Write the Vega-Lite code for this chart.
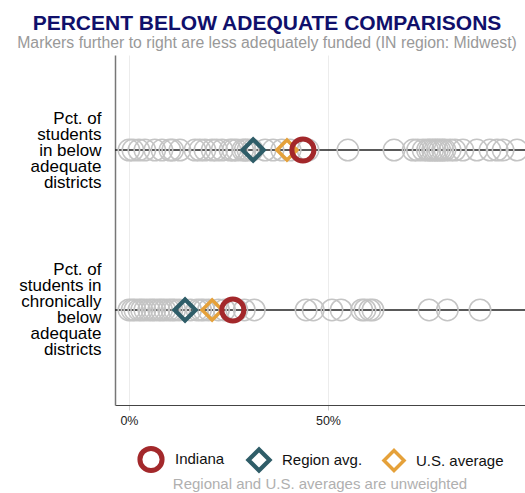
{
  "$schema": "https://vega.github.io/schema/vega-lite/v6.json",
  "autosize": "none",
  "width": 410,
  "height": 350,
  "padding": {"left": 115, "top": 55, "right": 0, "bottom": 88},
  "title": {
    "text": "PERCENT BELOW ADEQUATE COMPARISONS",
    "subtitle": "Markers further to right are less adequately funded (IN region: Midwest)",
    "anchor": "middle",
    "frame": "group",
    "dx": -53,
    "offset": 4,
    "font": "Liberation Sans",
    "fontSize": 21,
    "fontWeight": "bold",
    "color": "#10106b",
    "subtitleFont": "Liberation Sans",
    "subtitleFontSize": 15.8,
    "subtitleColor": "#999999",
    "subtitlePadding": 2
  },
  "datasets": {
    "metrics": [
      {"metric": "Pct. of|students|in below|adequate|districts"},
      {"metric": "Pct. of|students in|chronically|below|adequate|districts"}
    ],
    "states": [
      {"metric": "Pct. of|students|in below|adequate|districts", "value": 0},
      {"metric": "Pct. of|students|in below|adequate|districts", "value": 1.0},
      {"metric": "Pct. of|students|in below|adequate|districts", "value": 2.5},
      {"metric": "Pct. of|students|in below|adequate|districts", "value": 4.0},
      {"metric": "Pct. of|students|in below|adequate|districts", "value": 6.5},
      {"metric": "Pct. of|students|in below|adequate|districts", "value": 8.3},
      {"metric": "Pct. of|students|in below|adequate|districts", "value": 10.3},
      {"metric": "Pct. of|students|in below|adequate|districts", "value": 11.0},
      {"metric": "Pct. of|students|in below|adequate|districts", "value": 12.8},
      {"metric": "Pct. of|students|in below|adequate|districts", "value": 16.6},
      {"metric": "Pct. of|students|in below|adequate|districts", "value": 17.8},
      {"metric": "Pct. of|students|in below|adequate|districts", "value": 19.1},
      {"metric": "Pct. of|students|in below|adequate|districts", "value": 20.9},
      {"metric": "Pct. of|students|in below|adequate|districts", "value": 22.0},
      {"metric": "Pct. of|students|in below|adequate|districts", "value": 23.4},
      {"metric": "Pct. of|students|in below|adequate|districts", "value": 25.4},
      {"metric": "Pct. of|students|in below|adequate|districts", "value": 26.2},
      {"metric": "Pct. of|students|in below|adequate|districts", "value": 27.1},
      {"metric": "Pct. of|students|in below|adequate|districts", "value": 28.6},
      {"metric": "Pct. of|students|in below|adequate|districts", "value": 29.2},
      {"metric": "Pct. of|students|in below|adequate|districts", "value": 29.9},
      {"metric": "Pct. of|students|in below|adequate|districts", "value": 31.0},
      {"metric": "Pct. of|students|in below|adequate|districts", "value": 34.2},
      {"metric": "Pct. of|students|in below|adequate|districts", "value": 36.2},
      {"metric": "Pct. of|students|in below|adequate|districts", "value": 38.4},
      {"metric": "Pct. of|students|in below|adequate|districts", "value": 40.5},
      {"metric": "Pct. of|students|in below|adequate|districts", "value": 45.0},
      {"metric": "Pct. of|students|in below|adequate|districts", "value": 55.0},
      {"metric": "Pct. of|students|in below|adequate|districts", "value": 66.6},
      {"metric": "Pct. of|students|in below|adequate|districts", "value": 71.4},
      {"metric": "Pct. of|students|in below|adequate|districts", "value": 72.5},
      {"metric": "Pct. of|students|in below|adequate|districts", "value": 73.9},
      {"metric": "Pct. of|students|in below|adequate|districts", "value": 75.0},
      {"metric": "Pct. of|students|in below|adequate|districts", "value": 75.6},
      {"metric": "Pct. of|students|in below|adequate|districts", "value": 76.3},
      {"metric": "Pct. of|students|in below|adequate|districts", "value": 76.9},
      {"metric": "Pct. of|students|in below|adequate|districts", "value": 77.5},
      {"metric": "Pct. of|students|in below|adequate|districts", "value": 78.1},
      {"metric": "Pct. of|students|in below|adequate|districts", "value": 78.8},
      {"metric": "Pct. of|students|in below|adequate|districts", "value": 79.4},
      {"metric": "Pct. of|students|in below|adequate|districts", "value": 80.7},
      {"metric": "Pct. of|students|in below|adequate|districts", "value": 81.9},
      {"metric": "Pct. of|students|in below|adequate|districts", "value": 83.9},
      {"metric": "Pct. of|students|in below|adequate|districts", "value": 87.4},
      {"metric": "Pct. of|students|in below|adequate|districts", "value": 90.7},
      {"metric": "Pct. of|students|in below|adequate|districts", "value": 92.5},
      {"metric": "Pct. of|students|in below|adequate|districts", "value": 94.0},
      {"metric": "Pct. of|students|in below|adequate|districts", "value": 97.5},
      {"metric": "Pct. of|students in|chronically|below|adequate|districts", "value": 0},
      {"metric": "Pct. of|students in|chronically|below|adequate|districts", "value": 0.8},
      {"metric": "Pct. of|students in|chronically|below|adequate|districts", "value": 1.5},
      {"metric": "Pct. of|students in|chronically|below|adequate|districts", "value": 2.5},
      {"metric": "Pct. of|students in|chronically|below|adequate|districts", "value": 3.2},
      {"metric": "Pct. of|students in|chronically|below|adequate|districts", "value": 4.0},
      {"metric": "Pct. of|students in|chronically|below|adequate|districts", "value": 5.0},
      {"metric": "Pct. of|students in|chronically|below|adequate|districts", "value": 5.8},
      {"metric": "Pct. of|students in|chronically|below|adequate|districts", "value": 6.5},
      {"metric": "Pct. of|students in|chronically|below|adequate|districts", "value": 7.5},
      {"metric": "Pct. of|students in|chronically|below|adequate|districts", "value": 8.2},
      {"metric": "Pct. of|students in|chronically|below|adequate|districts", "value": 9.0},
      {"metric": "Pct. of|students in|chronically|below|adequate|districts", "value": 10.0},
      {"metric": "Pct. of|students in|chronically|below|adequate|districts", "value": 10.8},
      {"metric": "Pct. of|students in|chronically|below|adequate|districts", "value": 11.5},
      {"metric": "Pct. of|students in|chronically|below|adequate|districts", "value": 12.6},
      {"metric": "Pct. of|students in|chronically|below|adequate|districts", "value": 15.5},
      {"metric": "Pct. of|students in|chronically|below|adequate|districts", "value": 17.1},
      {"metric": "Pct. of|students in|chronically|below|adequate|districts", "value": 18.0},
      {"metric": "Pct. of|students in|chronically|below|adequate|districts", "value": 18.8},
      {"metric": "Pct. of|students in|chronically|below|adequate|districts", "value": 20.0},
      {"metric": "Pct. of|students in|chronically|below|adequate|districts", "value": 22.5},
      {"metric": "Pct. of|students in|chronically|below|adequate|districts", "value": 24.0},
      {"metric": "Pct. of|students in|chronically|below|adequate|districts", "value": 27.1},
      {"metric": "Pct. of|students in|chronically|below|adequate|districts", "value": 29.0},
      {"metric": "Pct. of|students in|chronically|below|adequate|districts", "value": 31.5},
      {"metric": "Pct. of|students in|chronically|below|adequate|districts", "value": 44.5},
      {"metric": "Pct. of|students in|chronically|below|adequate|districts", "value": 46.3},
      {"metric": "Pct. of|students in|chronically|below|adequate|districts", "value": 51.0},
      {"metric": "Pct. of|students in|chronically|below|adequate|districts", "value": 53.3},
      {"metric": "Pct. of|students in|chronically|below|adequate|districts", "value": 58.5},
      {"metric": "Pct. of|students in|chronically|below|adequate|districts", "value": 59.3},
      {"metric": "Pct. of|students in|chronically|below|adequate|districts", "value": 60.5},
      {"metric": "Pct. of|students in|chronically|below|adequate|districts", "value": 61.3},
      {"metric": "Pct. of|students in|chronically|below|adequate|districts", "value": 75.4},
      {"metric": "Pct. of|students in|chronically|below|adequate|districts", "value": 80.0},
      {"metric": "Pct. of|students in|chronically|below|adequate|districts", "value": 88.2}
    ],
    "highlights": [
      {"metric": "Pct. of|students|in below|adequate|districts", "value": 31.2, "marker": "Region avg."},
      {"metric": "Pct. of|students in|chronically|below|adequate|districts", "value": 14.1, "marker": "Region avg."},
      {"metric": "Pct. of|students|in below|adequate|districts", "value": 39.7, "marker": "U.S. average"},
      {"metric": "Pct. of|students in|chronically|below|adequate|districts", "value": 20.9, "marker": "U.S. average"},
      {"metric": "Pct. of|students|in below|adequate|districts", "value": 43.7, "marker": "Indiana"},
      {"metric": "Pct. of|students in|chronically|below|adequate|districts", "value": 26.1, "marker": "Indiana"}
    ]
  },
  "encoding": {
    "y": {
      "field": "metric",
      "type": "nominal",
      "scale": {
        "type": "point",
        "domain": [
          "Pct. of|students|in below|adequate|districts",
          "Pct. of|students in|chronically|below|adequate|districts"
        ],
        "padding": 0.594
      },
      "axis": {
        "title": null,
        "labelExpr": "split(datum.label, '|')",
        "labelFont": "Liberation Sans",
        "labelFontSize": 17,
        "labelLineHeight": 16,
        "labelColor": "#000000",
        "labelPadding": 14,
        "labelOffset": {"condition": {"test": "indexof(datum.value, 'chronically') >= 0", "value": -40}, "value": -32},
        "ticks": false,
        "domainColor": "#777777",
        "domainWidth": 1.5,
        "grid": false,
        "labelLimit": 200
      }
    }
  },
  "layer": [
    {
      "data": {"name": "metrics"},
      "mark": {"type": "rule", "color": "#222222", "strokeWidth": 1.5},
      "encoding": {}
    },
    {
      "data": {"name": "states"},
      "mark": {"type": "point", "filled": false, "color": "#c4c4c4", "size": 460, "strokeWidth": 1.5, "opacity": 1},
      "encoding": {
        "x": {
          "field": "value",
          "type": "quantitative",
          "scale": {"domain": [-3.5, 99.5], "nice": false, "zero": false},
          "axis": {
            "title": null,
            "values": [0, 50, 100],
            "labelExpr": "datum.value + '%'",
            "labelFlush": false,
            "labelFont": "Liberation Sans",
            "labelFontSize": 12.5,
            "labelColor": "#222222",
            "labelPadding": 4,
            "tickColor": "#cccccc",
            "tickSize": 5,
            "domainColor": "#444444",
            "domainWidth": 1.2,
            "grid": true,
            "gridColor": "#ececec",
            "gridWidth": 1
          }
        }
      }
    },
    {
      "data": {"name": "highlights"},
      "mark": {"type": "point", "filled": false, "opacity": 1},
      "encoding": {
        "x": {"field": "value", "type": "quantitative"},
        "color": {
          "field": "marker",
          "type": "nominal",
          "scale": {"domain": ["Indiana", "Region avg.", "U.S. average"], "range": ["#a3282b", "#2f5d68", "#e5a13a"]},
          "legend": {
            "title": "Regional and U.S. averages are unweighted",
            "orient": "bottom",
            "direction": "horizontal",
            "titleOrient": "bottom",
            "titleAnchor": "middle",
            "titleFont": "Liberation Sans",
            "titleFontSize": 15,
            "titleFontWeight": "normal",
            "titleColor": "#b0b0b0",
            "titlePadding": -4,
            "titleLimit": 500,
            "labelFont": "Liberation Sans",
            "labelFontSize": 15,
            "labelColor": "#111111",
            "labelOffset": 10,
            "columnPadding": 14,
            "offset": 18
          }
        },
        "shape": {
          "field": "marker",
          "type": "nominal",
          "scale": {"domain": ["Indiana", "Region avg.", "U.S. average"], "range": ["circle", "diamond", "diamond"]}
        },
        "size": {
          "field": "marker",
          "type": "nominal",
          "scale": {"domain": ["Indiana", "Region avg.", "U.S. average"], "range": [490, 400, 400]}
        },
        "strokeWidth": {
          "field": "marker",
          "type": "nominal",
          "scale": {"domain": ["Indiana", "Region avg.", "U.S. average"], "range": [5, 3.5, 3.5]}
        }
      }
    }
  ],
  "config": {
    "view": {"stroke": null},
    "font": "Liberation Sans",
    "legend": {"layout": {"bottom": {"anchor": "middle"}}}
  }
}
